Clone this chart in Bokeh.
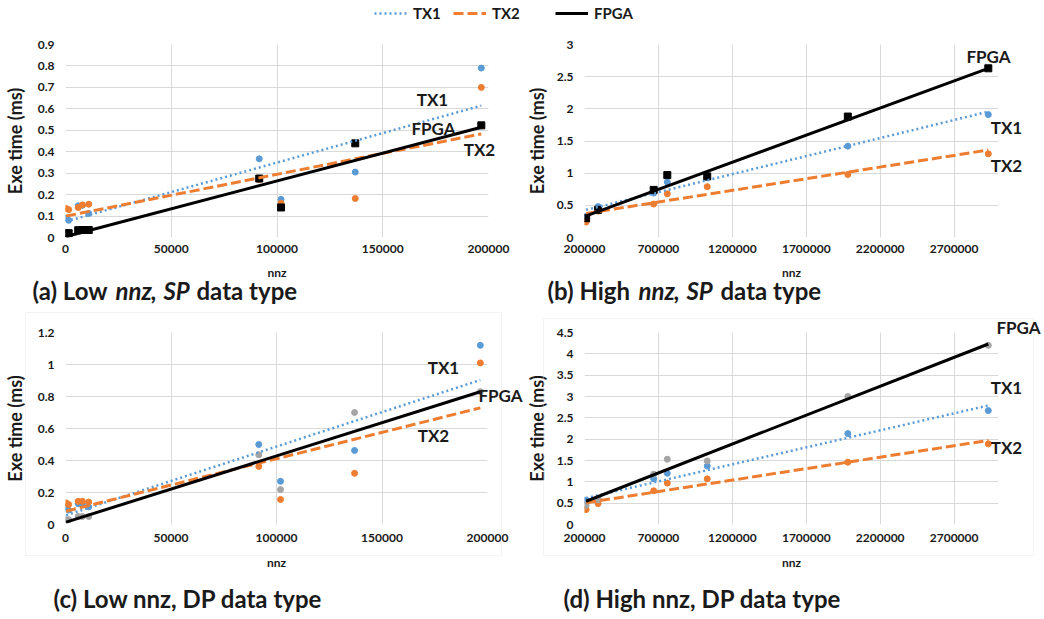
from bokeh.plotting import figure
from bokeh.layouts import column, row
from bokeh.models import (Range1d, FixedTicker, NumeralTickFormatter, Label,
                          Legend, LegendItem, BoxAnnotation, GridBox)
from bokeh.embed import file_html
from bokeh.resources import INLINE

FONT = "Lato"
BLUE = "#5B9BD5"
ORANGE = "#ED7D31"
GRAY = "#A5A5A5"
BLACK = "#000000"
GRID = "#D9D9D9"
TXT = "#1a1a1a"

# ---------------- data ----------------
series_names = ["TX1", "TX2", "FPGA"]

low_nnz = [300, 1500, 6000, 8000, 11000, 91600, 101900, 137000, 196600]
high_nnz = [211000, 292000, 668000, 760000, 1030000, 1981000, 2931000]

# (a) low nnz, SP
sp_low_tx1 = [0.09, 0.08, 0.148, 0.15, 0.112, 0.367, 0.178, 0.305, 0.79]
sp_low_tx2 = [0.135, 0.13, 0.14, 0.152, 0.155, 0.27, 0.16, 0.182, 0.70]
sp_low_fpga = [0.02, 0.02, 0.034, 0.035, 0.035, 0.275, 0.14, 0.439, 0.523]
# (b) high nnz, SP
sp_high_tx1 = [0.33, 0.48, 0.69, 0.86, 0.93, 1.42, 1.91]
sp_high_tx2 = [0.24, 0.41, 0.52, 0.68, 0.79, 0.98, 1.30]
sp_high_fpga = [0.30, 0.43, 0.74, 0.97, 0.95, 1.88, 2.63]
# (c) low nnz, DP
dp_low_tx1 = [0.11, 0.09, 0.13, 0.13, 0.11, 0.50, 0.27, 0.463, 1.12]
dp_low_tx2 = [0.135, 0.125, 0.145, 0.145, 0.14, 0.363, 0.156, 0.32, 1.01]
dp_low_fpga = [0.03, 0.03, 0.05, 0.05, 0.05, 0.436, 0.218, 0.70, 0.83]
# (d) high nnz, DP
dp_high_tx1 = [0.57, 0.60, 1.07, 1.20, 1.37, 2.13, 2.67]
dp_high_tx2 = [0.35, 0.49, 0.79, 0.97, 1.07, 1.46, 1.89]
dp_high_fpga = [0.45, 0.58, 1.18, 1.53, 1.49, 3.00, 4.20]

# linear trendlines: value at first and last nnz
sp_low_tx1_trend = [0.075, 0.615]
sp_low_tx2_trend = [0.10, 0.483]
sp_low_fpga_trend = [0.005, 0.514]
sp_high_tx1_trend = [0.43, 1.956]
sp_high_tx2_trend = [0.374, 1.36]
sp_high_fpga_trend = [0.337, 2.63]
dp_low_tx1_trend = [0.058, 0.903]
dp_low_tx2_trend = [0.083, 0.729]
dp_low_fpga_trend = [0.015, 0.83]
dp_high_tx1_trend = [0.62, 2.79]
dp_high_tx2_trend = [0.51, 1.97]
dp_high_fpga_trend = [0.545, 4.23]

low_xticks = [0, 50000, 100000, 150000, 200000]
high_xticks = [200000, 700000, 1200000, 1700000, 2200000, 2700000]
a_yticks = [0, 0.1, 0.2, 0.3, 0.4, 0.5, 0.6, 0.7, 0.8, 0.9]
b_yticks = [0, 0.5, 1, 1.5, 2, 2.5, 3]
c_yticks = [0, 0.2, 0.4, 0.6, 0.8, 1, 1.2]
d_yticks = [0, 0.5, 1, 1.5, 2, 2.5, 3, 3.5, 4, 4.5]

x_title = "nnz"
y_title = "Exe time (ms)"

caption_a = [("(a) Low", False), ("nnz", True), (",", False), ("SP", True), ("data type", False)]
caption_b = [("(b) High", False), ("nnz", True), (",", False), ("SP", True), ("data type", False)]
caption_c = [("(c) Low nnz, DP data type", False)]
caption_d = [("(d) High nnz, DP data type", False)]


def make_panel(nnz, tx1, tx2, fpga, tx1_tr, tx2_tr, fpga_tr, fpga_color, fpga_marker,
               xr, yr, xticks, yticks, W, H, L, R, T, B, xstand, xlstand, ylstand):
    p = figure(width=W, height=H, x_range=Range1d(*xr), y_range=Range1d(*yr),
               output_backend="svg", toolbar_location=None, title=None,
               min_border_left=L, min_border_right=R, min_border_top=T,
               min_border_bottom=B)
    p.outline_line_color = None
    p.background_fill_color = "white"
    p.border_fill_color = "white"

    p.xaxis.ticker = FixedTicker(ticks=xticks)
    p.yaxis.ticker = FixedTicker(ticks=yticks)
    p.xaxis.formatter = NumeralTickFormatter(format="0")
    p.yaxis.formatter = NumeralTickFormatter(format="0.[0]")
    for ax in (p.xaxis[0], p.yaxis[0]):
        ax.axis_line_color = None
        ax.major_tick_out = 0
        ax.major_tick_in = 0
        ax.minor_tick_out = 0
        ax.minor_tick_in = 0
        ax.major_label_text_font = FONT
        ax.major_label_text_font_size = "12px"
        ax.major_label_text_font_style = "bold"
        ax.major_label_text_color = TXT
        ax.axis_label_text_font = FONT
        ax.axis_label_text_font_style = "bold"
        ax.axis_label_text_color = TXT
    p.xaxis.major_label_standoff = xstand
    p.xaxis.axis_label = x_title
    p.xaxis.axis_label_text_font_size = "12px"
    p.xaxis.axis_label_standoff = xlstand
    p.yaxis.major_label_standoff = 11
    p.yaxis.axis_label = y_title
    p.yaxis.axis_label_text_font_size = "18px"
    p.yaxis.axis_label_standoff = ylstand

    p.xgrid.grid_line_color = GRID
    p.ygrid.grid_line_color = GRID

    # points
    p.scatter(nnz, tx1, marker="circle", size=6, color=BLUE)
    p.scatter(nnz, tx2, marker="circle", size=6, color=ORANGE)
    p.scatter(nnz, fpga, marker=fpga_marker, size=7 if fpga_marker == "square" else 6,
              color=fpga_color)
    # linear trendlines
    ends = [nnz[0], nnz[-1]]
    p.line(ends, tx1_tr, line_color=BLUE, line_width=2.5, line_dash="2 3")
    p.line(ends, tx2_tr, line_color=ORANGE, line_width=3, line_dash="10 4")
    p.line(ends, fpga_tr, line_color=BLACK, line_width=3)
    return p


pa = make_panel(low_nnz, sp_low_tx1, sp_low_tx2, sp_low_fpga,
                sp_low_tx1_trend, sp_low_tx2_trend, sp_low_fpga_trend, BLACK, "square",
                (0, 200000), (0, 0.9), low_xticks, a_yticks,
                522, 276, 61, 34, 14, 69, 7, 9, 9)
pb = make_panel(high_nnz, sp_high_tx1, sp_high_tx2, sp_high_fpga,
                sp_high_tx1_trend, sp_high_tx2_trend, sp_high_fpga_trend, BLACK, "square",
                (200000, 3000000), (0, 3), high_xticks, b_yticks,
                522, 276, 56, 46, 14, 69, 7, 9, 6)
pc = make_panel(low_nnz, dp_low_tx1, dp_low_tx2, dp_low_fpga,
                dp_low_tx1_trend, dp_low_tx2_trend, dp_low_fpga_trend, GRAY, "circle",
                (0, 200000), (0, 1.2), low_xticks, c_yticks,
                522, 312, 61, 35, 26, 94, 9, 10, 9)
pd_ = make_panel(high_nnz, dp_high_tx1, dp_high_tx2, dp_high_fpga,
                 dp_high_tx1_trend, dp_high_tx2_trend, dp_high_fpga_trend, GRAY, "circle",
                 (200000, 3000000), (0, 4.5), high_xticks, d_yticks,
                 522, 312, 57, 46, 26, 94, 9, 10, 6)

# ---------------- legend strip ----------------
lg = figure(width=1044, height=30, x_range=Range1d(0, 1), y_range=Range1d(0, 1),
            output_backend="svg", toolbar_location=None, title=None,
            x_axis_location=None, y_axis_location=None,
            min_border_left=0, min_border_right=0, min_border_top=0, min_border_bottom=0)
lg.grid.visible = False
lg.outline_line_color = None
r1 = lg.line(x=[5, 6], y=[5, 6], line_color=BLUE, line_width=2.5, line_dash="2 3")
r2 = lg.line(x=[5, 6], y=[5, 6], line_color=ORANGE, line_width=3, line_dash="10 4")
r3 = lg.line(x=[5, 6], y=[5, 6], line_color=BLACK, line_width=3)
for name, r, x in zip(series_names, (r1, r2, r3), (374, 453, 555)):
    lg.add_layout(Legend(items=[LegendItem(label=name, renderers=[r])], location=(x, 7),
                         orientation="horizontal", padding=0, margin=0, spacing=0,
                         border_line_color=None, background_fill_alpha=0,
                         glyph_width=33, glyph_height=20, label_standoff=6,
                         label_text_font=FONT, label_text_font_size="15px",
                         label_text_font_style="bold", label_text_color=TXT))

# ---------------- text overlay (page pixel coordinates, y downwards) ----------------
ov = figure(width=1044, height=618, x_range=Range1d(0, 1044), y_range=Range1d(618, 0),
            output_backend="svg", toolbar_location=None, title=None,
            x_axis_location=None, y_axis_location=None,
            min_border_left=0, min_border_right=0, min_border_top=0, min_border_bottom=0)
ov.grid.visible = False
ov.outline_line_color = None
ov.background_fill_color = None
ov.border_fill_color = None

# chart-area borders of panels (c) and (d)
ov.add_layout(BoxAnnotation(left=25, right=501, top=312, bottom=555, fill_color=None,
                            fill_alpha=0, line_color=GRID, line_width=1))
ov.add_layout(BoxAnnotation(left=543, right=1033, top=318, bottom=555, fill_color=None,
                            fill_alpha=0, line_color=GRID, line_width=1))

series_label_pos = [
    [(432, 99), (479, 149), (433, 128)],       # (a) TX1, TX2, FPGA
    [(1006, 127), (1006, 165), (988, 56)],     # (b)
    [(443, 367), (433, 435), (500, 395)],      # (c)
    [(1006, 387), (1006, 447), (1018, 327)],   # (d)
]
for panel in series_label_pos:
    for name, (x, y) in zip(series_names, panel):
        ov.add_layout(Label(x=x, y=y, text=name, text_align="center",
                            text_baseline="middle", text_font=FONT,
                            text_font_size="17px", text_font_style="bold",
                            text_color=TXT))

captions = [
    (caption_a, [32, 115, 150, 163, 196], 290),
    (caption_b, [547, 638, 673, 686, 720], 290),
    (caption_c, [53], 598),
    (caption_d, [563], 598),
]
for segs, xs, yb in captions:
    for (text, italic), x in zip(segs, xs):
        ov.add_layout(Label(x=x, y=yb, text=text, text_align="left",
                            text_baseline="alphabetic", text_font=FONT,
                            text_font_size="24px",
                            text_font_style="bold italic" if italic else "bold",
                            text_color=TXT))

panels = column(lg, row(pa, pb), row(pc, pd_))
layout = GridBox(children=[(panels, 0, 0), (ov, 0, 0)], spacing=0)

open("out.html", "w").write(file_html(layout, INLINE))
